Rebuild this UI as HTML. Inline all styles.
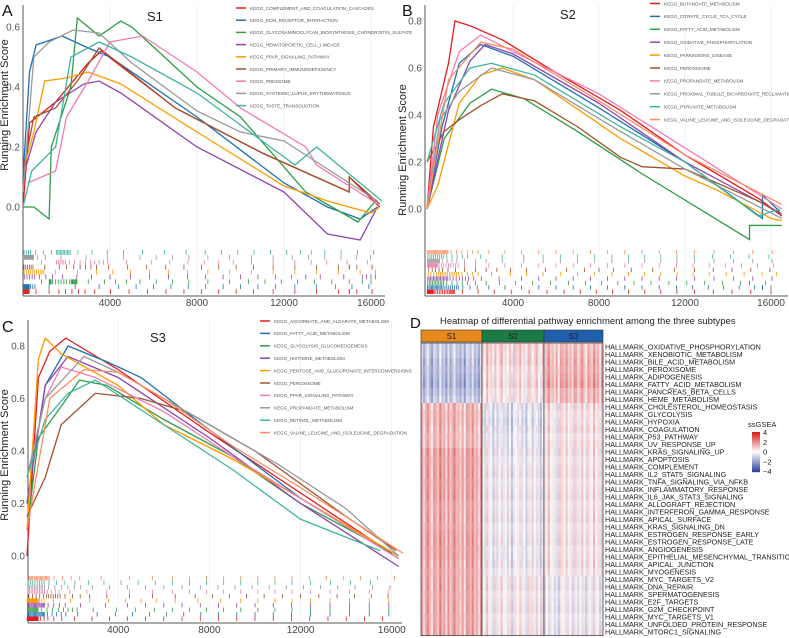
<!DOCTYPE html>
<html><head><meta charset="utf-8"><style>
body{margin:0;background:#fff;font-family:"Liberation Sans",sans-serif}
svg{display:block}
</style></head><body>
<svg id="fig" width="789" height="638" viewBox="0 0 789 638" xmlns="http://www.w3.org/2000/svg" font-family="Liberation Sans, sans-serif"></svg>
<script>
// ---------- DATA ----------
const ticksX=[4000,8000,12000,16000];
const ticksA=[0,0.2,0.4,0.6];
const ticksB=[0,0.2,0.4,0.6,0.8];
const ticksC=[0,0.2,0.4,0.6,0.8];
const namesA=["KEGG_COMPLEMENT_AND_COAGULATION_CASCADES","KEGG_ECM_RECEPTOR_INTERACTION","KEGG_GLYCOSAMINOGLYCAN_BIOSYNTHESIS_CHONDROITIN_SULFATE","KEGG_HEMATOPOIETIC_CELL_LINEAGE","KEGG_PPAR_SIGNALING_PATHWAY","KEGG_PRIMARY_IMMUNODEFICIENCY","KEGG_RIBOSOME","KEGG_SYSTEMIC_LUPUS_ERYTHEMATOSUS","KEGG_TASTE_TRANSDUCTION"];
const colorsA=["#e41a1c","#1f6fb5","#2e9e44","#8e44ad","#ff9900","#a0522d","#f17cb0","#999999","#3fb5a0"];
const curvesA=[
[[0,0],[0.3,0.28],[1.5,0.35],[3,0.48],[3.6,0.52],[7,0.33],[11,0.18],[15,0.05],[15,0.1],[16.4,0]],
[[0,0.1],[0.3,0.45],[0.6,0.54],[1.8,0.57],[3,0.53],[4,0.5],[8,0.3],[12,0.08],[14,0.0],[15.5,-0.04],[16.3,0.0]],
[[0,0],[0.5,0],[1.2,-0.04],[1.3,0.2],[2.2,0.4],[2.5,0.63],[3.5,0.57],[4.5,0.62],[5,0.6],[8,0.4],[10,0.3],[13,0.05],[15.4,-0.05],[16.2,0.02]],
[[0,0.1],[0.6,0.25],[1.5,0.35],[2.8,0.41],[3.5,0.42],[4.5,0.38],[8,0.2],[12,0.05],[14,-0.09],[15.5,-0.11],[16.3,0.0]],
[[0,0.12],[0.5,0.25],[1,0.42],[2,0.43],[3,0.45],[4.5,0.41],[8,0.25],[10,0.16],[12,0.07],[14,0.02],[16,-0.02],[16.4,0.0]],
[[0,0.12],[0.5,0.3],[1.5,0.33],[2.5,0.42],[3.5,0.53],[7,0.33],[11,0.18],[15,0.05],[15,0.1],[16.4,0.01]],
[[0.2,0.08],[1.5,0.12],[2,0.3],[3,0.42],[4,0.55],[5.5,0.57],[8,0.45],[10,0.33],[13,0.2],[13.5,0.14],[16.3,0.01]],
[[0,0.05],[0.5,0.5],[1.2,0.55],[2.3,0.59],[3.5,0.58],[5,0.48],[8,0.32],[10,0.25],[12,0.22],[15,0.08],[16.3,0.02]],
[[0,0],[0.4,0.12],[1.5,0.2],[2.2,0.5],[3.5,0.55],[5,0.5],[8,0.38],[11,0.22],[12.5,0.14],[13.5,0.2],[16.5,0.02]]];
const namesB=["KEGG_BUTANOATE_METABOLISM","KEGG_CITRATE_CYCLE_TCA_CYCLE","KEGG_FATTY_ACID_METABOLISM","KEGG_OXIDATIVE_PHOSPHORYLATION","KEGG_PARKINSONS_DISEASE","KEGG_PEROXISOME","KEGG_PROPANOATE_METABOLISM","KEGG_PROXIMAL_TUBULE_BICARBONATE_RECLAMATION","KEGG_PYRUVATE_METABOLISM","KEGG_VALINE_LEUCINE_AND_ISOLEUCINE_DEGRADATION"];
const colorsB=["#e41a1c","#1f6fb5","#2e9e44","#8e44ad","#ff9900","#a0522d","#f17cb0","#999999","#3fb5a0","#fc8d62"];
const curvesB=[
[[0,0],[0.3,0.35],[1,0.62],[1.3,0.8],[2,0.78],[3.5,0.72],[6,0.58],[9,0.42],[12,0.23],[15.5,0.04],[16.5,-0.03]],
[[0,0],[0.7,0.35],[1.5,0.62],[2.5,0.7],[4,0.65],[8,0.43],[12,0.2],[15.6,-0.04],[15.6,0.06],[16.4,-0.01]],
[[0,0],[0.8,0.3],[2,0.45],[3,0.51],[4.5,0.47],[7,0.33],[10,0.15],[15,-0.13],[15,-0.07],[16.5,-0.07]],
[[0,0],[1,0.42],[2,0.63],[2.7,0.7],[4,0.66],[8,0.45],[12,0.2],[16.5,-0.02]],
[[0,0],[0.5,0.1],[1.5,0.45],[2.5,0.57],[3.5,0.6],[5,0.55],[9,0.3],[12,0.14],[13.5,0.08],[16,-0.04],[16.5,-0.05]],
[[0,0.2],[0.8,0.33],[1.5,0.38],[2.5,0.44],[3.5,0.49],[5,0.46],[7,0.35],[9,0.22],[10,0.18],[12,0.17],[15.5,0.03],[16.4,-0.02]],
[[0,0],[0.5,0.4],[1.5,0.67],[2.5,0.74],[4,0.67],[8,0.49],[12,0.26],[16.5,0.0]],
[[0,0],[0.6,0.38],[1.5,0.5],[3,0.6],[5,0.55],[9,0.33],[12,0.17],[16.5,-0.04]],
[[0,0.2],[0.8,0.45],[2,0.6],[3,0.62],[5,0.57],[9,0.35],[12,0.2],[15.4,-0.03],[16.4,0.0]],
[[0,0],[1,0.55],[2.5,0.71],[4,0.68],[8,0.46],[12,0.23],[16.5,0.02]]];
const namesC=["KEGG_ASCORBATE_AND_ALDARATE_METABOLISM","KEGG_FATTY_ACID_METABOLISM","KEGG_GLYCOLYSIS_GLUCONEOGENESIS","KEGG_HISTIDINE_METABOLISM","KEGG_PENTOSE_AND_GLUCURONATE_INTERCONVERSIONS","KEGG_PEROXISOME","KEGG_PPAR_SIGNALING_PATHWAY","KEGG_PROPANOATE_METABOLISM","KEGG_RETINOL_METABOLISM","KEGG_VALINE_LEUCINE_AND_ISOLEUCINE_DEGRADATION"];
const colorsC=colorsB;
const curvesC=[
[[0,0],[0.5,0.68],[1,0.78],[1.7,0.83],[4,0.71],[8,0.47],[12,0.24],[16,0.01]],
[[0,0.2],[0.8,0.65],[1.8,0.8],[3.5,0.74],[5,0.68],[8,0.48],[12,0.22],[16.3,-0.01]],
[[0,0.1],[0.5,0.45],[1.5,0.57],[2.3,0.67],[3.5,0.65],[6,0.52],[9,0.38],[12,0.2],[16.3,0.0]],
[[0,0.2],[0.8,0.65],[1.8,0.76],[4,0.68],[8,0.45],[12,0.2],[16.3,-0.04]],
[[0,0.1],[0.5,0.75],[0.8,0.83],[1.5,0.77],[4,0.65],[6,0.5],[9,0.37],[12,0.22],[16.3,0.0]],
[[0,0.15],[0.8,0.3],[1.5,0.5],[2.5,0.58],[3,0.62],[5,0.6],[7,0.55],[10,0.4],[14,0.15],[16.2,0.02]],
[[0,0.3],[0.8,0.6],[1.5,0.72],[3,0.68],[6,0.55],[9,0.38],[12,0.22],[16.3,-0.01]],
[[0,0.3],[0.8,0.6],[2.5,0.76],[4,0.7],[8,0.5],[11,0.35],[14,0.18],[16.3,0.0]],
[[0,0.3],[0.8,0.52],[1.8,0.62],[3,0.67],[6,0.5],[9,0.33],[12,0.14],[15.5,0.02]],
[[0,0.1],[1,0.6],[2.5,0.71],[4,0.7],[6,0.6],[9,0.42],[12,0.26],[16.5,0.01]]];
// heatmap
const pathways=["OXIDATIVE_PHOSPHORYLATION","XENOBIOTIC_METABOLISM","BILE_ACID_METABOLISM","PEROXISOME","ADIPOGENESIS","FATTY_ACID_METABOLISM","PANCREAS_BETA_CELLS","HEME_METABOLISM","CHOLESTEROL_HOMEOSTASIS","GLYCOLYSIS","HYPOXIA","COAGULATION","P53_PATHWAY","UV_RESPONSE_UP","KRAS_SIGNALING_UP","APOPTOSIS","COMPLEMENT","IL2_STAT5_SIGNALING","TNFA_SIGNALING_VIA_NFKB","INFLAMMATORY_RESPONSE","IL6_JAK_STAT3_SIGNALING","ALLOGRAFT_REJECTION","INTERFERON_GAMMA_RESPONSE","APICAL_SURFACE","KRAS_SIGNALING_DN","ESTROGEN_RESPONSE_EARLY","ESTROGEN_RESPONSE_LATE","ANGIOGENESIS","EPITHELIAL_MESENCHYMAL_TRANSITION","APICAL_JUNCTION","MYOGENESIS","MYC_TARGETS_V2","DNA_REPAIR","SPERMATOGENESIS","E2F_TARGETS","G2M_CHECKPOINT","MYC_TARGETS_V1","UNFOLDED_PROTEIN_RESPONSE","MTORC1_SIGNALING"];
const meanS1=[-0.8,-0.8,-1,-1,-1.1,-1.2,-1,-0.8,0.9,1,1,0.9,0.9,0.9,1.2,1.2,1.2,1.2,1.2,1.2,1.2,1.1,1.1,1.1,1.1,1.2,1.2,1.2,1.2,1.1,1.1,1.1,1.1,1.1,1.1,1.1,1.1,1.1,1.1];
const meanS2=[0.6,0.5,0.5,0.4,0.3,0.4,0.3,0.2,-0.3,-0.4,-0.5,-0.3,-0.3,-0.3,-0.2,-0.2,-0.1,-0.1,-0.1,-0.1,-0.1,-0.1,-0.1,-0.1,-0.1,-0.1,-0.1,-0.2,-0.2,-0.1,-0.1,0.1,0.1,0.1,0.1,0.1,0.1,0.1,0.1];
const meanS3=[0.8,0.9,1,1,1.1,1.2,0.9,0.9,0.3,0.3,0.2,0.3,0.2,0.3,0.2,0.2,0.2,0.2,0.2,0.2,0.2,0.2,0.2,0.2,0.2,0.2,0.2,0.2,0.2,0.2,0.2,-0.1,-0.1,-0.1,-0.1,-0.1,-0.1,-0.1,-0.1];
const colOffset=[0.3,-0.5,0.1,0.6,-0.2,-0.7,0.4,0,-0.3,0.8,-0.1,0.2,-0.6,0.5,-0.4,0.1,0.7,-0.2,0,-0.5,0.3,-0.8,0.4,0.2,-0.1,0.6,-0.3,0.1,-0.6,0.5];
const groups=["S1","S2","S3"];
const groupColors=["#e8891d","#1c7a45","#1f5fae"];
const legendTicks=[4,2,0,-2,-4];

// ---------- DRAW ----------
const svg=document.getElementById('fig');
const NS="http://www.w3.org/2000/svg";
function mk(tag,attrs,parent){const e=document.createElementNS(NS,tag);for(const k in attrs)e.setAttribute(k,attrs[k]);(parent||svg).appendChild(e);return e;}

function panel(cfg){
  const g=mk('g',{});
  
  
  const X=r=>cfg.x0+r*cfg.pxk/1000, Y=v=>cfg.y0-v*cfg.py;
  ticksX.forEach(t=>{mk('line',{x1:X(t),x2:X(t),y1:cfg.top,y2:cfg.bottom,stroke:'#ececec','stroke-width':0.7},g);
    const tx=mk('text',{x:X(t),y:cfg.bottom+10,'font-size':10,fill:'#444','text-anchor':'middle'},g);tx.textContent=t;
    });
  cfg.yt.forEach(t=>{const tx=mk('text',{x:cfg.ax-3,y:Y(t)+3.5,'font-size':10,fill:'#555','text-anchor':'end'},g);tx.textContent=t.toFixed(1);
    });
  mk('line',{x1:cfg.ax,x2:cfg.ax,y1:cfg.top,y2:cfg.bottom,stroke:'#555','stroke-width':1},g);
  mk('line',{x1:cfg.ax,x2:cfg.right,y1:cfg.bottom,y2:cfg.bottom,stroke:'#555','stroke-width':1},g);
  const yt=mk('text',{x:0,y:0,'font-size':11,fill:'#222','text-anchor':'middle',transform:`translate(${cfg.ytx},${cfg.yty}) rotate(-90)`},g);
  yt.textContent='Running Enrichment Score';
  const tt=mk('text',{x:cfg.tx,y:cfg.ty,'font-size':13,fill:'#222'},g);tt.textContent=cfg.title;
  
  const lt=mk('text',{x:cfg.lx,y:cfg.ly,'font-size':16,fill:'#111'},g);lt.textContent=cfg.letter;
  
  const n=cfg.curves.length,rh=(cfg.bottom-2-cfg.rugTop)/n;
  cfg.curves.forEach((c,i)=>{
    const row=n-1-i, y1=cfg.rugTop+row*rh;
    for(let k=1;k<c.length;k++){const dy=c[k][1]-c[k-1][1],dx=c[k][0]-c[k-1][0];
      const cnt=dy>0?Math.max(1,Math.round(dy*35)):Math.round(dx*0.9+(-dy)*6);
      for(let j=0;j<cnt;j++){const r=(c[k-1][0]+dx*(j+0.5)/cnt)*1000;
        const l=mk('line',{x1:X(r),x2:X(r),y1:y1,y2:y1+rh,stroke:cfg.colors[i],'stroke-width':0.8},g);
        }}
  });
  cfg.curves.forEach((c,i)=>{
    const p=mk('polyline',{points:c.map(d=>X(d[0]*1000)+','+Y(d[1])).join(' '),fill:'none',stroke:cfg.colors[i],'stroke-width':1.3},g);
    
  });
  cfg.names.forEach((nm,i)=>{const y=cfg.legY+i*cfg.legS;
    const l=mk('line',{x1:cfg.legX,x2:cfg.legX+10,y1:y,y2:y,stroke:cfg.colors[i],'stroke-width':1.5},g);
    
    const t=mk('text',{x:cfg.legX+14,y:y+1.8,'font-size':4.6,fill:'#555'},g);t.textContent=nm;
    });
}
panel({id:'s1',x0:23,pxk:21.75,y0:207,py:300,ax:23,top:5,bottom:296,right:385,rugTop:250,yt:ticksA,curves:curvesA,colors:colorsA,names:namesA,title:'S1',tx:147,ty:21,letter:'A',lx:2,ly:16,ytx:8,yty:105,legX:236,legY:8,legS:12.2});
panel({id:'s2',x0:427,pxk:21.5,y0:209,py:235,ax:425,top:5,bottom:296,right:788,rugTop:250,yt:ticksB,curves:curvesB,colors:colorsB,names:namesB,title:'S2',tx:560,ty:19,letter:'B',lx:402,ly:16,ytx:406,yty:150,legX:650,legY:3.5,legS:12.9});
panel({id:'s3',x0:27,pxk:22.8,y0:556,py:262.5,ax:28,top:320,bottom:623,right:402,rugTop:576,yt:ticksC,curves:curvesC,colors:colorsC,names:namesC,title:'S3',tx:150,ty:342,letter:'C',lx:2,ly:332,ytx:8,yty:455,legX:260,legY:321,legS:12.4});

// heatmap
const hg=mk('g',{});
const hl=mk('text',{x:410,y:328,'font-size':15,fill:'#111'},hg);hl.textContent='D';

const ht=mk('text',{x:440,y:324,'font-size':9.5,fill:'#222'},hg);ht.textContent='Heatmap of differential pathway enrichment among the three subtypes';

function col(v){const t=Math.max(-1,Math.min(1,v/3.2));
  const w=[250,248,250],r=[214,40,40],b=[50,70,160],e=t>=0?r:b,a=Math.abs(t);
  return 'rgb('+w.map((x,k)=>Math.round(x+(e[k]-x)*a)).join(',')+')';}
const legCol=v=>{const t=Math.max(-1,Math.min(1,v/4));const w=[255,255,255],r=[214,30,30],b=[45,65,155],e=t>=0?r:b,a=Math.abs(t);return 'rgb('+w.map((x,k)=>Math.round(x+(e[k]-x)*a)).join(',')+')';};
const gx=[421,482,544],gw=[61,62,59],hy0=343,rowH=7.5,nc=30;
const means=[meanS1,meanS2,meanS3];
groups.forEach((gname,gi)=>{
  const hb=mk('rect',{x:gx[gi],y:330,width:gw[gi],height:12,fill:groupColors[gi],stroke:'#333','stroke-width':0.6},hg);
  
  const hx=mk('text',{x:gx[gi]+gw[gi]/2,y:339,'font-size':8,fill:'#222','text-anchor':'middle'},hg);hx.textContent=gname;
  
  const cw=gw[gi]/nc;
  pathways.forEach((p,ri)=>{for(let c=0;c<nc;c++){
    const v=means[gi][ri]+colOffset[(c+gi*7)%nc]*(0.8+0.2*((ri%3)));
    const cell=mk('rect',{x:gx[gi]+c*cw,y:hy0+ri*rowH,width:cw+0.3,height:rowH+0.3,fill:col(v)},hg);
    }});
  const fr=mk('rect',{x:gx[gi],y:hy0,width:gw[gi],height:rowH*pathways.length,fill:'none',stroke:'#333','stroke-width':0.7},hg);
  
});
pathways.forEach((p,ri)=>{const t=mk('text',{x:605,y:hy0+ri*rowH+rowH-0.8,'font-size':7.2,fill:'#222'},hg);t.textContent='HALLMARK_'+p;
  });
const lgT=mk('text',{x:748,y:427,'font-size':7.5,fill:'#222'},hg);lgT.textContent='ssGSEA';

for(let i=0;i<40;i++){const v=4-8*i/39;const r=mk('rect',{x:752,y:432+i,width:8,height:1.2,fill:legCol(v)},hg);
  }
legendTicks.forEach(t=>{const tx=mk('text',{x:763,y:432+(4-t)/8*39+3,'font-size':7.5,fill:'#222'},hg);tx.textContent=t<0?'\u2212'+(-t):t;
  });
</script>
</body></html>
